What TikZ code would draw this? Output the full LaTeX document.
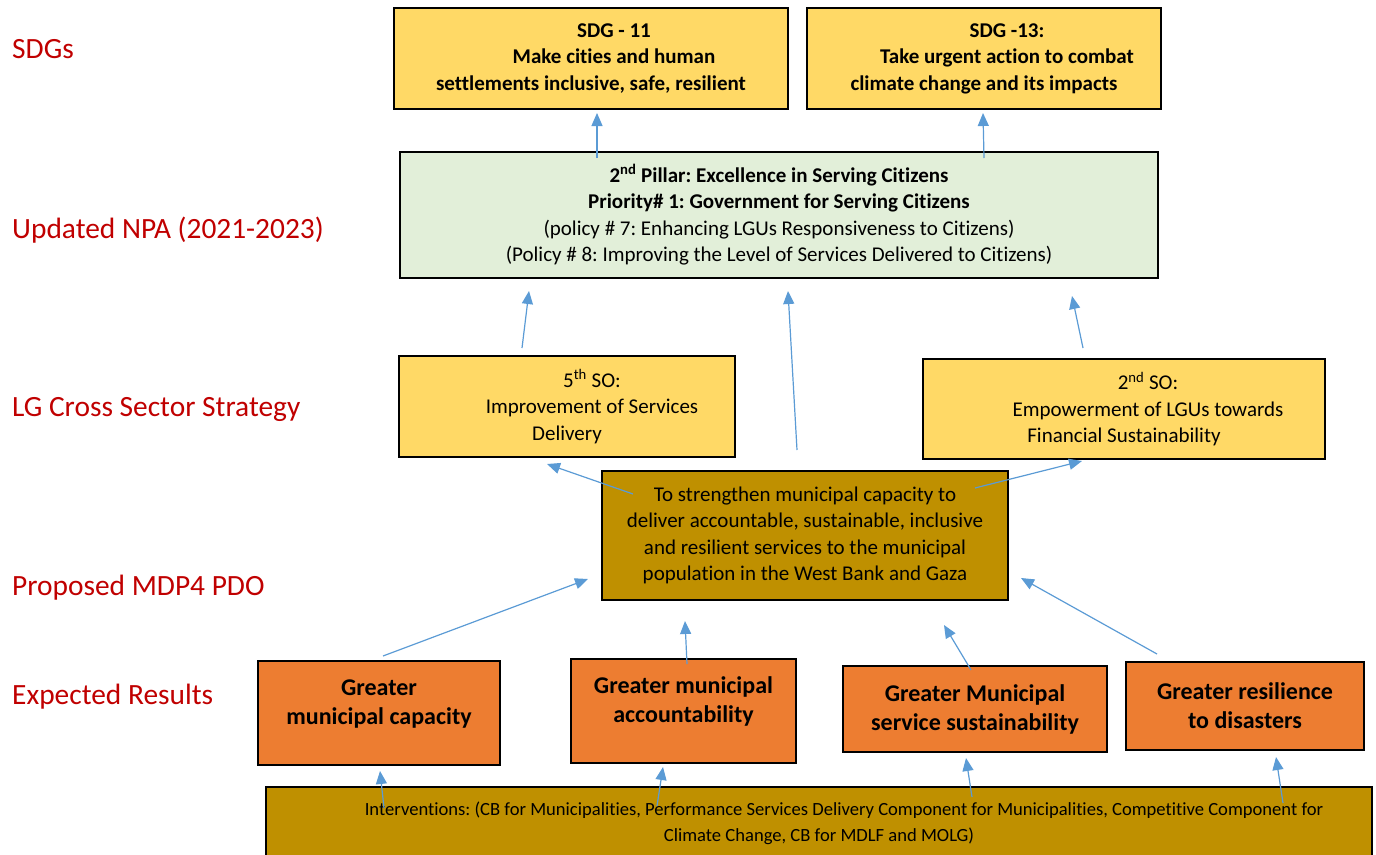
\documentclass[tikz,border=0pt]{standalone}
\usepackage{fontspec}
\setmainfont{Carlito}[Ligatures=NoCommon]
\usetikzlibrary{arrows.meta}
\definecolor{sdgyel}{HTML}{FFD966}
\definecolor{npagrn}{HTML}{E2EFD9}
\definecolor{pdogld}{HTML}{BF9000}
\definecolor{resorg}{HTML}{ED7D31}
\definecolor{arrblu}{HTML}{5B9BD5}
\definecolor{lblred}{HTML}{C00000}
\frenchspacing

\tikzset{
  box/.style={draw=black, line width=1.3pt, inner sep=0pt, align=center, font=\fontsize{21}{26.5}\selectfont},
  resbox/.style={box, fill=resorg, font=\fontsize{24}{29}\selectfont\bfseries},
  lvl/.style={anchor=base west, inner sep=0pt, text=lblred, font=\fontsize{29.4}{34}\selectfont},
  conn/.style={arrblu, line width=1.2pt, -{Triangle[length=13pt,width=11pt]}}
}

\begin{document}
\begin{tikzpicture}[x=1pt, y=-1pt]
\useasboundingbox (0,0) rectangle (1376,854);

% row labels
\node[lvl] (l-sdg) at (12,58) {SDGs};
\node[lvl] (l-npa) at (12,238) {Updated NPA (2021-2023)};
\node[lvl] (l-lg)  at (12,416) {LG Cross Sector Strategy};
\node[lvl] (l-pdo) at (12,595) {Proposed MDP4 PDO};
\node[lvl] (l-res) at (12,704) {Expected Results};

% SDGs
\node[box, fill=sdgyel, font=\fontsize{21}{26.5}\selectfont\bfseries, minimum width=394pt, minimum height=101pt] (sdg11) at (591,58.5)
  {\hspace*{46pt}SDG - 11\\ \hspace*{46pt}Make cities and human\\ settlements inclusive, safe, resilient};
\node[box, fill=sdgyel, font=\fontsize{21}{26.5}\selectfont\bfseries, minimum width=354pt, minimum height=101pt] (sdg13) at (984,58.5)
  {\hspace*{46pt}SDG -13:\\ \hspace*{46pt}Take urgent action to combat\\ climate change and its impacts};

% NPA
\node[box, fill=npagrn, minimum width=758pt, minimum height=126pt] (npa) at (779,215)
  {\textbf{2\textsuperscript{nd} Pillar: Excellence in Serving Citizens}\\
   \textbf{Priority\# 1: Government for Serving Citizens}\\
   (policy \# 7: Enhancing LGUs Responsiveness to Citizens)\\
   (Policy \# 8: Improving the Level of Services Delivered to Citizens)};

% cross sector strategy
\node[box, fill=sdgyel, minimum width=336pt, minimum height=101pt] (so5) at (567,406.5)
  {\hspace*{50pt}5\textsuperscript{th} SO:\\ \hspace*{50pt}Improvement of Services\\ Delivery};
\node[box, fill=sdgyel, minimum width=402pt, minimum height=100pt] (so2) at (1124,409)
  {\hspace*{48pt}2\textsuperscript{nd} SO:\\ \hspace*{48pt}Empowerment of LGUs towards\\ Financial Sustainability};

% PDO
\node[box, fill=pdogld, minimum width=406pt, minimum height=129pt] (pdo) at (805,535.5)
  {To strengthen municipal capacity to\\ deliver accountable, sustainable, inclusive\\
   and resilient services to the municipal\\ population in the West Bank and Gaza};

% expected results
\node[resbox, minimum width=242pt, minimum height=104pt] (resA) at (379,713)
  {Greater\\ municipal capacity\\[-7pt] \mbox{}};
\node[resbox, minimum width=225pt, minimum height=104pt] (resB) at (683.5,711)
  {Greater municipal\\ accountability\\[-7pt] \mbox{}};
\node[resbox, minimum width=264pt, minimum height=86pt] (resC) at (975,709)
  {Greater Municipal\\ service sustainability};
\node[resbox, minimum width=238pt, minimum height=88pt] (resD) at (1245,706)
  {Greater resilience\\ to disasters};

% interventions
\node[box, fill=pdogld, font=\fontsize{18.6}{26}\selectfont, minimum width=1106pt, minimum height=73pt] (int) at (819,823.5)
  {\hspace*{50pt}Interventions: (CB for Municipalities, Performance Services Delivery Component for Municipalities, Competitive Component for\\
   Climate Change, CB for MDLF and MOLG)};

% arrow ends
\coordinate (npa-o1) at (597,158);   \coordinate (sdg11-i) at (597,113);
\coordinate (npa-o2) at (984,158);   \coordinate (sdg13-i) at (983,113);
\coordinate (so5-o)  at (522,348);   \coordinate (npa-i1)  at (529,291);
\coordinate (pdo-o1) at (797,450);   \coordinate (npa-i2)  at (788,291);
\coordinate (so2-o)  at (1083,348);  \coordinate (npa-i3)  at (1072,296);
\coordinate (pdo-o2) at (633,494);   \coordinate (so5-i)   at (547,464);
\coordinate (pdo-o3) at (975,488);   \coordinate (so2-i)   at (1082,461);
\coordinate (resA-o) at (383,656);   \coordinate (pdo-i1)  at (588,579);
\coordinate (resB-o) at (687,664);   \coordinate (pdo-i2)  at (685,621);
\coordinate (resC-o) at (971,670);   \coordinate (pdo-i3)  at (944,625);
\coordinate (resD-o) at (1157,654);  \coordinate (pdo-i4)  at (1021,578);
\coordinate (int-o1) at (384,808);   \coordinate (resA-i)  at (380,771);
\coordinate (int-o2) at (657,806);   \coordinate (resB-i)  at (663,767);
\coordinate (int-o3) at (972,797);   \coordinate (resC-i)  at (966,758);
\coordinate (int-o4) at (1283,803);  \coordinate (resD-i)  at (1276,757);

\draw[conn] (npa-o1) -- (sdg11-i);
\draw[conn] (npa-o2) -- (sdg13-i);
\draw[conn] (so5-o) -- (npa-i1);
\draw[conn] (pdo-o1) -- (npa-i2);
\draw[conn] (so2-o) -- (npa-i3);
\draw[conn] (pdo-o2) -- (so5-i);
\draw[conn] (pdo-o3) -- (so2-i);
\draw[conn] (resA-o) -- (pdo-i1);
\draw[conn] (resB-o) -- (pdo-i2);
\draw[conn] (resC-o) -- (pdo-i3);
\draw[conn] (resD-o) -- (pdo-i4);
\draw[conn] (int-o1) -- (resA-i);
\draw[conn] (int-o2) -- (resB-i);
\draw[conn] (int-o3) -- (resC-i);
\draw[conn] (int-o4) -- (resD-i);
\end{tikzpicture}
\end{document}
